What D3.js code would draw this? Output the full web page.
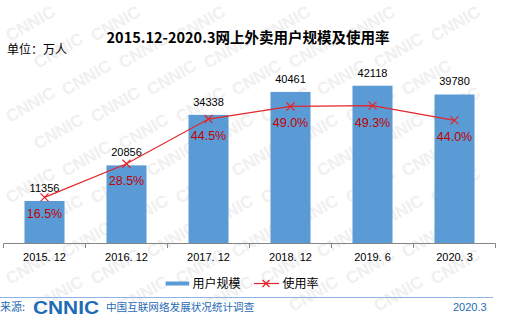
<!DOCTYPE html>
<html><head><meta charset="utf-8">
<script src="https://cdn.jsdelivr.net/npm/d3@7"></script>
<style>body{margin:0;background:#fff}svg{display:block;font-family:"Noto Sans CJK SC","Liberation Sans",sans-serif}</style>
</head><body><svg id="c" width="505" height="331"></svg>
<script>
const categories = ["2015. 12","2016. 12","2017. 12","2018. 12","2019. 6","2020. 3"];
const users = [11356,20856,34338,40461,42118,39780];
const rates = [16.5,28.5,44.5,49.0,49.3,44.0];
const title = "2015.12-2020.3网上外卖用户规模及使用率";
const unit = "单位：万人";
const legendLabels = ["用户规模","使用率"];

const svg = d3.select("#c");
// watermark tile (faint), kept inside the canvas
const wm = svg.append("g");
for (let r=0;r<12;r++){for(let c=-1;c<7;c++){
  const x = 10 + c*85 + (r%3)*28, y = 42 + r*27;
  if (x < 9 || x + 58 > 504 || y - 40 < 0 || y + 3 > 331) continue;
  wm.append("text").attr("transform",`translate(${x},${y}) rotate(-30)`)
    .attr("font-family","Liberation Sans,Arial,sans-serif").attr("font-weight","bold").attr("font-size",17)
    .attr("fill","#f0f0f0").text("CNNIC");
}}

const x = d3.scaleBand().domain(categories).range([3.5,495.5]).paddingInner(0.512).paddingOuter(0.256);
const y = d3.scaleLinear().domain([0,50000]).range([243.5,56.2]);
const y2 = d3.scaleLinear().domain([0,60]).range([243.5,75.7]);

svg.append("text").attr("x",248).attr("y",43).attr("text-anchor","middle").attr("font-weight","bold").attr("font-size",14.5).attr("fill","#000").text(title);
svg.append("text").attr("x",7).attr("y",54).attr("font-size",12).attr("fill","#000").text(unit);

svg.append("g").selectAll("rect").data(users).join("rect")
  .attr("x",(d,i)=>x(categories[i])).attr("width",x.bandwidth())
  .attr("y",d=>y(d)).attr("height",d=>y(0)-y(d)).attr("fill","#5b9bd5");

svg.append("line").attr("x1",3.5).attr("x2",495.5).attr("y1",243.5).attr("y2",243.5).attr("stroke","#868686");
const step = x.step();
svg.append("g").selectAll("line").data(d3.range(categories.length+1)).join("line")
  .attr("x1",d=>3.5+d*step).attr("x2",d=>3.5+d*step).attr("y1",243.5).attr("y2",248).attr("stroke","#868686");
svg.append("g").selectAll("text").data(categories).join("text")
  .attr("x",d=>x(d)+x.bandwidth()/2).attr("y",261).attr("text-anchor","middle")
  .attr("font-family","Liberation Sans,Arial,sans-serif").attr("font-size",11).attr("fill","#000").text(d=>d);

svg.append("g").selectAll("text").data(users).join("text")
  .attr("x",(d,i)=>x(categories[i])+x.bandwidth()/2).attr("y",d=>y(d)-9).attr("text-anchor","middle")
  .attr("font-family","Liberation Sans,Arial,sans-serif").attr("font-size",11).attr("fill","#000").text(d=>d);

const cx = (d,i)=>x(categories[i])+x.bandwidth()/2;
const line = d3.line().x(cx).y(d=>y2(d));
svg.append("path").datum(rates).attr("d",line).attr("fill","none").attr("stroke","#e3262a").attr("stroke-width",1.2);
svg.append("g").selectAll("path").data(rates).join("path")
  .attr("d",(d,i)=>{const px=cx(d,i),py=y2(d),s=4;return `M${px-s},${py-s}L${px+s},${py+s}M${px-s},${py+s}L${px+s},${py-s}`;})
  .attr("stroke","#e3262a").attr("stroke-width",1.2);
svg.append("g").selectAll("text").data(rates).join("text")
  .attr("x",cx).attr("y",d=>y2(d)+21).attr("text-anchor","middle")
  .attr("font-family","Liberation Sans,Arial,sans-serif").attr("font-size",12.5).attr("fill","#c00000").text(d=>d.toFixed(1)+"%");

// legend
svg.append("rect").attr("x",165.7).attr("y",281.5).attr("width",23.5).attr("height",4).attr("fill","#5b9bd5");
svg.append("text").attr("x",192.5).attr("y",288).attr("font-size",12).attr("fill","#000").text(legendLabels[0]);
svg.append("line").attr("x1",254).attr("x2",279).attr("y1",283.5).attr("y2",283.5).attr("stroke","#e3262a").attr("stroke-width",1.2);
svg.append("path").attr("d","M262.5,280L269.5,287M262.5,287L269.5,280").attr("stroke","#e3262a").attr("stroke-width",1.2);
svg.append("text").attr("x",282.5).attr("y",288).attr("font-size",12).attr("fill","#000").text(legendLabels[1]);

// footer
svg.append("line").attr("x1",0).attr("x2",493).attr("y1",297.5).attr("y2",297.5).attr("stroke","#8eb4e3").attr("stroke-width",1);
svg.append("text").attr("x",0).attr("y",311).attr("font-size",11).attr("fill","#1f6bb5").text("来源:");
svg.append("text").attr("x",33).attr("y",313.5).attr("font-family","Liberation Sans,Arial,sans-serif").attr("font-weight","bold").attr("font-size",19)
  .attr("textLength",66).attr("lengthAdjust","spacingAndGlyphs").attr("fill","#1f6bb5").text("CNNIC");
svg.append("text").attr("x",106).attr("y",311).attr("font-size",10.6).attr("fill","#1f6bb5").text("中国互联网络发展状况统计调查");
svg.append("text").attr("x",453).attr("y",311).attr("font-family","Liberation Sans,Arial,sans-serif").attr("font-size",11).attr("fill","#1f6bb5").text("2020.3");
</script></body></html>
